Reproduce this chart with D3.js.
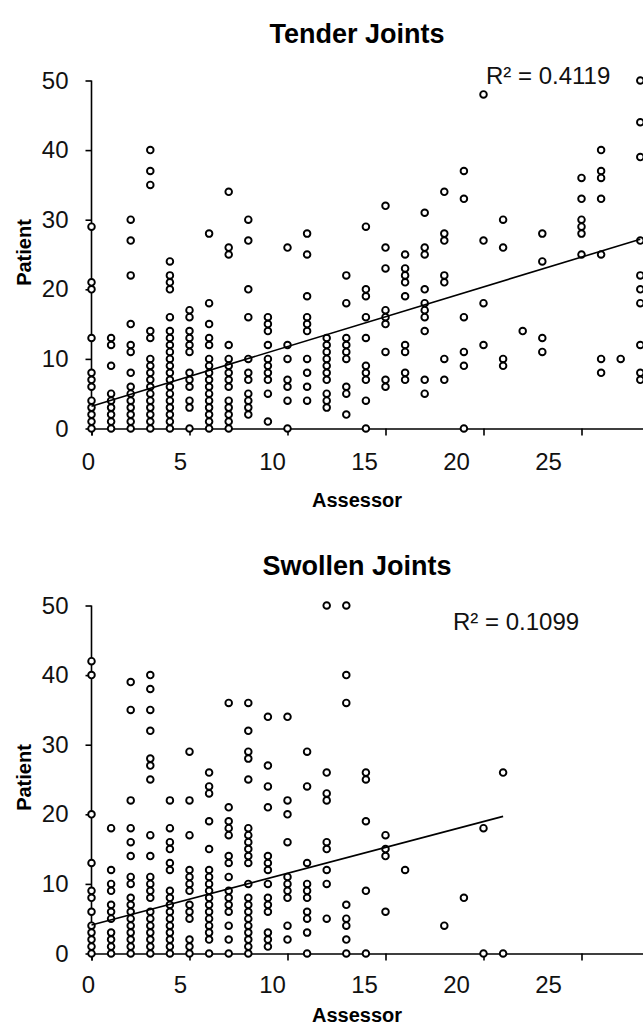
<!DOCTYPE html>
<html>
<head>
<meta charset="utf-8">
<script src="https://cdn.jsdelivr.net/npm/d3@7"></script>
<style>
  body { margin: 0; background: #fff; }
  svg { display: block; font-family: Arial, "Liberation Sans", sans-serif; }
</style>
</head>
<body>
<div id="chart"></div>
<script>
// patient counts per assessor count, one entry per column of points
const tenderCols = [
  [0, [29, 21, 20, 13, 8, 7, 6, 4, 3, 2, 1, 0]],
  [1, [13, 12, 9, 5, 4, 3, 2, 1, 0]],
  [2, [30, 27, 22, 15, 12, 11, 8, 6, 5, 4, 3, 2, 1, 0]],
  [3, [40, 37, 35, 14, 13, 10, 9, 8, 7, 6, 5, 4, 3, 2, 1, 0]],
  [4, [24, 22, 21, 20, 16, 14, 13, 12, 11, 10, 9, 8, 7, 6, 5, 4, 3, 2, 1, 0]],
  [5, [17, 16, 14, 13, 12, 11, 8, 7, 6, 4, 3, 0]],
  [6, [28, 18, 15, 13, 12, 10, 9, 8, 7, 6, 5, 4, 3, 2, 1, 0]],
  [7, [34, 26, 25, 12, 10, 9, 8, 7, 6, 4, 3, 2, 1, 0]],
  [8, [30, 27, 20, 16, 10, 8, 7, 5, 4, 3, 2]],
  [9, [16, 15, 14, 12, 10, 9, 8, 7, 5, 1]],
  [10, [26, 12, 10, 7, 6, 4, 0]],
  [11, [28, 25, 19, 16, 15, 14, 10, 8, 6, 4]],
  [12, [13, 12, 11, 10, 9, 8, 7, 5, 4, 3]],
  [13, [22, 18, 13, 12, 11, 10, 6, 5, 2]],
  [14, [29, 20, 19, 16, 13, 9, 8, 7, 4, 0]],
  [15, [32, 26, 23, 17, 16, 15, 11, 7, 6]],
  [16, [25, 23, 22, 21, 19, 12, 11, 8, 7]],
  [17, [31, 26, 25, 20, 18, 17, 16, 14, 7, 5]],
  [18, [34, 28, 27, 22, 21, 10, 7]],
  [19, [37, 33, 16, 11, 9, 0]],
  [20, [48, 27, 18, 12]],
  [21, [30, 26, 10, 9]],
  [22, [14]],
  [23, [28, 24, 13, 11]],
  [25, [36, 33, 30, 29, 28, 25]],
  [26, [40, 37, 36, 33, 25, 10, 8]],
  [27, [10]],
  [28, [50, 44, 39, 27, 22, 20, 18, 12, 8, 7]]
];

const swollenCols = [
  [0, [42, 40, 20, 13, 9, 8, 6, 4, 3, 2, 1, 0]],
  [1, [18, 12, 10, 9, 7, 6, 5, 3, 2, 1, 0]],
  [2, [39, 35, 22, 18, 16, 14, 11, 10, 8, 7, 6, 5, 4, 3, 2, 1, 0]],
  [3, [40, 38, 35, 32, 28, 27, 25, 17, 14, 11, 10, 9, 8, 6, 5, 4, 3, 2, 1, 0]],
  [4, [22, 18, 16, 15, 13, 12, 9, 8, 7, 6, 5, 4, 3, 2, 1, 0]],
  [5, [29, 22, 17, 12, 11, 10, 9, 7, 6, 5, 2, 1, 0]],
  [6, [26, 24, 23, 19, 15, 12, 11, 10, 9, 8, 7, 6, 5, 4, 3, 2, 0]],
  [7, [36, 21, 19, 18, 17, 14, 13, 11, 9, 8, 7, 6, 4, 2, 0]],
  [8, [36, 32, 29, 28, 25, 18, 17, 16, 15, 14, 13, 10, 8, 7, 6, 5, 4, 3, 2, 1, 0]],
  [9, [34, 27, 24, 21, 14, 13, 12, 10, 8, 7, 6, 3, 2, 1]],
  [10, [34, 22, 20, 16, 11, 10, 9, 8, 4, 2]],
  [11, [29, 24, 13, 10, 9, 8, 6, 5, 3, 0]],
  [12, [50, 26, 23, 22, 16, 15, 12, 10, 5]],
  [13, [50, 40, 36, 7, 5, 4, 2, 0]],
  [14, [26, 25, 19, 9, 0]],
  [15, [17, 15, 14, 6]],
  [16, [12]],
  [18, [4]],
  [19, [8]],
  [20, [18, 0]],
  [21, [26, 0]]
];

// fitted lines: [assessor, patient] end points
const tenderTrend = [[0, 3.2], [28, 27.2]];
const swollenTrend = [[0, 4.1], [21, 19.7]];

const xTicks = [0, 5, 10, 15, 20, 25];
const yTicks = [0, 10, 20, 30, 40, 50];

const width = 643, height = 1025;

const svg = d3.select("#chart").append("svg")
  .attr("width", width)
  .attr("height", height);

function drawPanel(opt) {
  const { top, title, r2, cols, trend } = opt;
  const g = svg.append("g").attr("transform", "translate(0," + top + ")");

  const x = d3.scaleLinear().domain([0, 30]).range([91.5, 91.5 + 30 * 19.6]);
  const y = d3.scaleLinear().domain([0, 50]).range([348, 0]);
  // the x tick labels in the original sit on a slightly tighter spacing than the tick marks
  const xLab = d3.scaleLinear().domain([0, 25]).range([88, 548]);

  // title
  g.append("text")
    .attr("x", 357)
    .attr("y", opt.titleY)
    .attr("text-anchor", "middle")
    .style("font-size", "27px")
    .style("font-weight", "bold")
    .text(title);

  // axes
  const yAxis = g.append("g")
    .attr("transform", "translate(" + x(0) + ",0)")
    .call(d3.axisLeft(y).tickValues(yTicks).tickSize(7).tickPadding(16));
  const xAxis = g.append("g")
    .attr("transform", "translate(0," + y(0) + ")")
    .call(d3.axisBottom(x).tickValues(xTicks).tickSize(7).tickFormat(""));
  const xLabels = g.append("g")
    .attr("transform", "translate(0," + y(0) + ")")
    .call(d3.axisBottom(xLab).tickValues(xTicks).tickSize(0).tickPadding(opt.xPad));
  xLabels.select(".domain").remove();

  [xAxis, yAxis, xLabels].forEach(a => {
    a.select(".domain").attr("stroke", "#000").attr("stroke-width", 1.6);
    a.selectAll(".tick line").attr("stroke", "#000").attr("stroke-width", 1.6);
    a.selectAll("text")
      .attr("fill", "#111")
      .style("font-size", "24px")
      .style("font-family", "Arial, 'Liberation Sans', sans-serif");
  });
  yAxis.selectAll(".domain").attr("d", "M0," + y(50) + "V" + y(0));
  yAxis.selectAll(".tick line").attr("x2", -6);

  // axis titles
  g.append("text")
    .attr("transform", "translate(31," + (y(25) - 2) + ") rotate(-90)")
    .attr("text-anchor", "middle")
    .style("font-size", "20px")
    .style("font-weight", "bold")
    .text("Patient");

  g.append("text")
    .attr("x", 357)
    .attr("y", y(0) + opt.labelGap)
    .attr("text-anchor", "middle")
    .style("font-size", "20px")
    .style("font-weight", "bold")
    .text("Assessor");

  // points
  const pts = cols.flatMap(([a, ps]) => ps.map(p => ({ a, p })));
  g.selectAll("pts")
    .data(pts)
    .enter()
    .append("circle")
    .attr("cx", d => x(d.a))
    .attr("cy", d => y(d.p))
    .attr("r", 3.3)
    .attr("fill", "#fff")
    .attr("stroke", "#000")
    .attr("stroke-width", 1.9);

  // trend line
  g.append("path")
    .datum(trend)
    .attr("d", d3.line().x(d => x(d[0])).y(d => y(d[1])))
    .attr("fill", "none")
    .attr("stroke", "#000")
    .attr("stroke-width", 1.6);

  g.append("text")
    .attr("x", opt.r2x)
    .attr("y", opt.r2y)
    .style("font-size", "24px")
    .attr("fill", "#111")
    .text(r2);
}

drawPanel({ top: 80.5, title: "Tender Joints", r2: "R\u00b2 = 0.4119", cols: tenderCols, trend: tenderTrend,
  r2x: 486, r2y: 3, titleY: -38, xPad: 24, labelGap: 78 });
drawPanel({ top: 605.5, title: "Swollen Joints", r2: "R\u00b2 = 0.1099", cols: swollenCols, trend: swollenTrend,
  r2x: 453, r2y: 24.5, titleY: -31, xPad: 22, labelGap: 68 });
</script>
</body>
</html>
